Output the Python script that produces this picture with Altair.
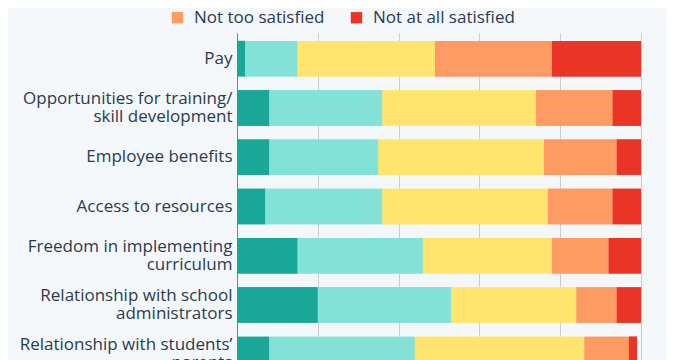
import altair as alt
import pandas as pd

aspects = [
    "Pay",
    "Opportunities for training/|skill development",
    "Employee benefits",
    "Access to resources",
    "Freedom in implementing|curriculum",
    "Relationship with school|administrators",
    "Relationship with students’|parents",
]
levels = ["Extremely satisfied", "Very satisfied", "Somewhat satisfied",
          "Not too satisfied", "Not at all satisfied"]
extremely = [2, 8, 8, 7, 15, 20, 8]
very = [13, 28, 27, 29, 31, 33, 36]
somewhat = [34, 38, 41, 41, 32, 31, 42]
not_too = [29, 19, 18, 16, 14, 10, 11]
not_at_all = [22, 7, 6, 7, 8, 6, 2]
colors = ["#19a797", "#83e1d8", "#ffe570", "#fe9b62", "#ea3526"]
x_ticks = [0, 20, 40, 60, 80, 100]

series = [extremely, very, somewhat, not_too, not_at_all]
rows = []
for li, (lvl, vals) in enumerate(zip(levels, series)):
    for a, v in zip(aspects, vals):
        rows.append({"aspect": a, "level": lvl, "value": v, "ord": li})
df = pd.DataFrame(rows)

FONT = "Open Sans"
TXT = "#2a3b4f"

y_enc = alt.Y(
    "aspect:N", sort=aspects,
    scale=alt.Scale(paddingInner=0.28, paddingOuter=0.16),
    axis=alt.Axis(title=None, labelExpr="split(datum.label, '|')", ticks=False,
                  domain=True, domainColor="#7d8289", domainWidth=1,
                  labelFont=FONT, labelFontSize=17, labelColor=TXT,
                  labelPadding=5, labelLimit=400, labelLineHeight=18,
                  labelOffset={"condition": {"test": "indexof(datum.value, '|') >= 0",
                                             "value": -9}, "value": 0}),
)
x_enc = alt.X(
    "value:Q", stack="zero",
    scale=alt.Scale(domain=[0, 100], nice=False),
    axis=alt.Axis(title=None, values=x_ticks, grid=True, gridColor="#c9ccd1",
                  domain=False, ticks=False, labelFont=FONT, labelFontSize=16,
                  labelColor=TXT, format="d"),
)

def legend(vals, lx, ly):
    return alt.Legend(
        values=vals, title=None, orient="none", legendX=lx, legendY=ly,
        direction="horizontal", symbolType="square", symbolSize=130,
        symbolStrokeWidth=0, symbolOpacity=1, labelFont=FONT, labelFontSize=17,
        labelColor=TXT, labelOffset=8, columnPadding=23, padding=0,
        labelLimit=400,
    )

layer_a = alt.Chart(df).mark_bar().encode(
    y=y_enc, x=x_enc,
    color=alt.Color("level:N", scale=alt.Scale(domain=levels, range=colors),
                    legend=legend(levels[:3], -158, -44)),
    order=alt.Order("ord:Q"),
)
layer_b = alt.Chart(df).mark_bar().encode(
    y=y_enc, x=x_enc,
    color=alt.Color("level:N", scale=alt.Scale(domain=levels, range=colors),
                    legend=legend(levels[3:], -68, -24)),
    order=alt.Order("ord:Q"),
)

chart = alt.layer(layer_a, layer_b).resolve_scale(color="independent").properties(
    width=404, height=347,
    autosize=alt.AutoSizeParams(type="none"),
    padding={"left": 229, "right": 26, "top": 25, "bottom": -20},
    background="#f4f7fa",
).configure_view(stroke=None)

chart.save("out.html", embed_options={"renderer": "svg", "actions": False})
